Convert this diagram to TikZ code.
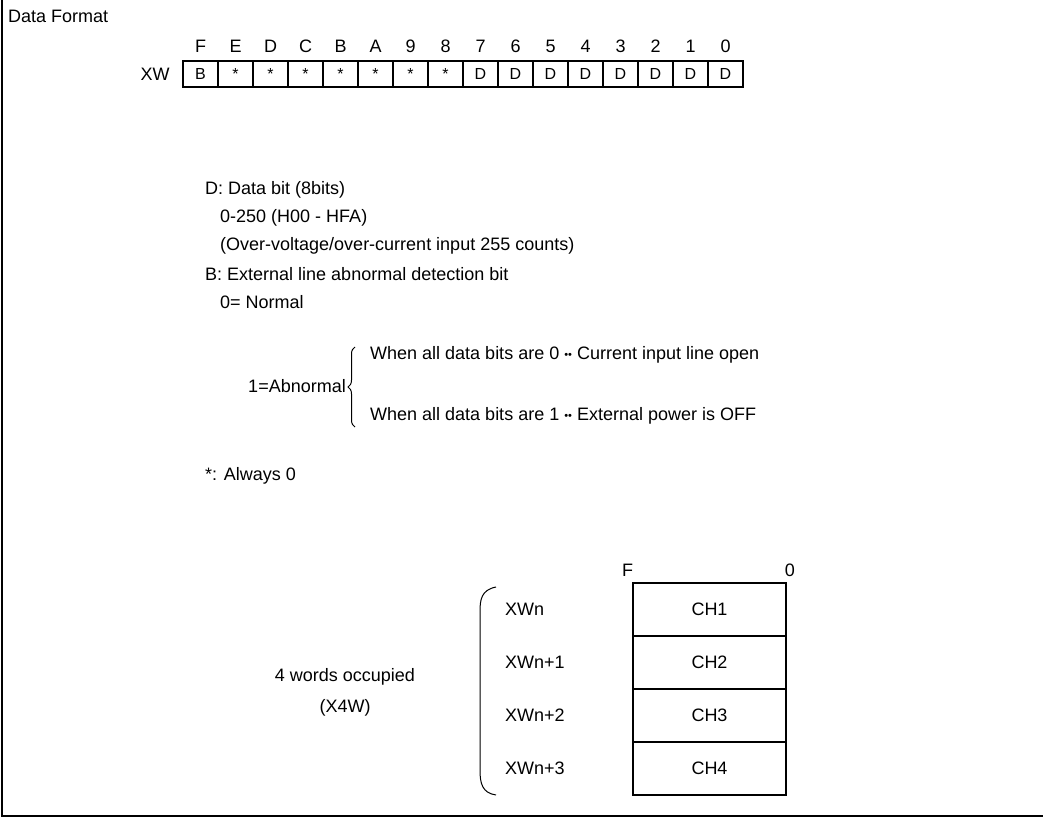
\documentclass[tikz,border=0pt]{standalone}
\usepackage{fontspec}
\setmainfont{Liberation Sans}
\usetikzlibrary{positioning,decorations.pathreplacing}
\newcommand{\bitdots}{{\fontsize{11}{11}\selectfont\raisebox{1pt}{••}}}

\begin{document}
\begin{tikzpicture}[
    x=1pt,y=-1pt,
    font=\fontsize{18}{21}\selectfont,
    bitcell/.style={draw,line width=1.2pt,minimum width=35pt,minimum height=26pt,
                    inner sep=0pt,font=\fontsize{16}{18}\selectfont},
    bitlbl/.style={inner sep=0pt},
    txt/.style={anchor=west,inner sep=0pt},
    chbox/.style={draw,line width=1.2pt,minimum width=153pt,minimum height=53pt,inner sep=0pt},
    frame/.style={line width=1.5pt}
  ]
  \useasboundingbox (0,0) rectangle (1043,818);

  %% -- Frame -------------------------------------------------------------
  \draw[frame] (2,0) -- (2,816) -- (1043,816);
  \node[txt] (title) at (8,16) {Data Format};

  %% -- Register row ------------------------------------------------------
  \node[bitlbl] (xw) at (155,74) {XW};
  \foreach \lbl/\val [count=\i from 0] in {F/B,E/*,D/*,C/*,B/*,A/*,9/*,8/*,
                                           7/D,6/D,5/D,4/D,3/D,2/D,1/D,0/D} {
    \node[bitcell] (cell\i) at ({200.5+35*\i},74) {\val};
    \node[bitlbl,above=8pt of cell\i] (bit\i) {\lbl};
  }

  %% -- Description -------------------------------------------------------
  \node[txt] (dbit)  at (205,190) {D: Data bit (8bits)};
  \node[txt] (range) at (220,218) {0-250 (H00 - HFA)};
  \node[txt] (over)  at (220,246) {(Over-voltage/over-current input 255 counts)};
  \node[txt] (bbit)  at (205,274) {B: External line abnormal detection bit};
  \node[txt] (norm)  at (220,302) {0= Normal};
  \node[anchor=east,inner sep=0pt] (abn) at (346,386) {1=Abnormal};
  \node[txt] (open)  at (370,355) {When all data bits are 0 \bitdots\ Current input line open};
  \node[txt] (off)   at (370,416) {When all data bits are 1 \bitdots\ External power is OFF};
  \draw[line width=1pt,decorate,decoration={brace,amplitude=7pt}]
    (355,427) -- (355,347);
  \node[txt] (zero)  at (205,476) {*: Always 0};

  %% -- Word map ----------------------------------------------------------
  \foreach \n [count=\i] in {,+1,+2,+3} {
    \node[chbox] (ch\i) at (709.5,{556.5+53*\i}) {CH\i};
    \node[txt] (xwn\i) at (505,{556.5+53*\i}) {XWn\n};
  }
  \node[bitlbl,above left=6pt and -1pt of ch1.north west] (msb) {F};
  \node[bitlbl,above right=6pt and -2pt of ch1.north east] (lsb) {0};
  \draw[line width=1pt] (496,587) .. controls (481,590) and (480,600) .. (480,612)
    -- (480,770) .. controls (480,783) and (482,793) .. (496,795);
  \node[align=center] (occ) at (345,692) {4 words occupied\\[10pt](X4W)};
\end{tikzpicture}
\end{document}
